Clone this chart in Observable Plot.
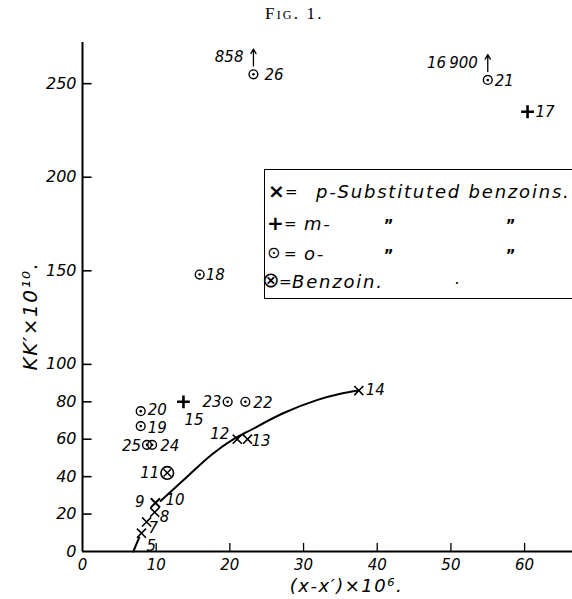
<!DOCTYPE html>
<html>
<head>
<meta charset="utf-8">
<script src="https://cdn.jsdelivr.net/npm/d3@7"></script>
<script src="https://cdn.jsdelivr.net/npm/@observablehq/plot@0.6"></script>
<style>
  html, body { margin: 0; padding: 0; background: white; }
  #page { position: relative; width: 572px; height: 599px; overflow: hidden; background: white; font-family: "DejaVu Sans", "Liberation Sans", sans-serif; }
  #title { position: absolute; left: 265px; top: 4px; font-family: "Liberation Serif", "DejaVu Serif", serif; font-variant: small-caps; font-size: 17px; letter-spacing: 2.2px; white-space: nowrap; }
  #chart { position: absolute; left: 0; top: 28px; }
  #legend { position: absolute; left: 264px; top: 169px; width: 340px; height: 128px; border: 1.6px solid black; font-style: italic; font-size: 18px; }
  #legend span { position: absolute; white-space: nowrap; line-height: 18px; }
</style>
</head>
<body>
<div id="page">
  <div id="title">Fig. 1.</div>
  <div id="chart"></div>
  <div id="legend"></div>
</div>
<script>
// ---- data ----
const xTicks = [10, 20, 30, 40, 50, 60];
const xTickLabels = [0, 10, 20, 30, 40, 50, 60];
const yTicks = [20, 40, 60, 80, 100, 150, 200, 250];
const yTickLabels = [0, 20, 40, 60, 80, 100, 150, 200, 250];

// p-substituted benzoins (x)
const pIds = ["5", "7", "8", "9", "10", "12", "13", "14"];
const pX   = [8.0, 8.7, 9.8, 9.9, 9.9, 21.0, 22.4, 37.5];
const pY   = [9.8, 15.8, 21, 26, 26, 60, 60, 86];

// m-substituted benzoins (+)
const mIds = ["15", "17"];
const mX   = [13.7, 60.4];
const mY   = [80, 235];

// o-substituted benzoins (circle with dot)
const oIds = ["18", "19", "20", "21", "22", "23", "24", "25", "26"];
const oX   = [15.9, 7.9, 7.9, 55.0, 22.1, 19.7, 9.45, 8.75, 23.2];
const oY   = [148, 67, 75, 252, 80, 80, 57, 57, 255];

// benzoin (circle with cross)
const bIds = ["11"];
const bX   = [11.5];
const bY   = [42];

// off-scale true values (arrows)
const offIds    = ["21", "26"];
const offValues = ["16\u2009900", "858"];

// drawn curve through the p-series
const curveSeg = ["a", "a", "b", "b", "b", "b", "b", "b", "b", "b", "b"];
const curveX   = [6.9, 7.7, 10.6, 14.2, 17.6, 20.5, 22.4, 27.3, 31.9, 35.0, 37.5];
const curveY   = [0, 7.5, 27, 40, 52, 60, 64, 74, 81, 84.3, 86];

// ---- tables ----
const toRows = (ids, xs, ys) => ids.map((id, i) => ({id, x: xs[i], y: ys[i]}));
const pRows = toRows(pIds, pX, pY);
const mRows = toRows(mIds, mX, mY);
const oRows = toRows(oIds, oX, oY);
const bRows = toRows(bIds, bX, bY);
const allRows = [...pRows, ...mRows, ...oRows, ...bRows];
const curveRows = curveX.map((x, i) => ({seg: curveSeg[i], x, y: curveY[i]}));
const offRows = offIds.map((id, i) => ({...oRows.find(d => d.id === id), value: offValues[i]}));

// label placement (pixel offsets, anchor)
const labelPlace = {
  "5": [5, 13, "start"], "7": [2, 6, "start"], "8": [5, 5, "start"],
  "9": [-11, -1, "end"], "10": [10, -3, "start"],
  "12": [-8, -5, "end"], "13": [4, 2, "start"], "14": [7, 0, "start"],
  "15": [1, 18, "start"], "17": [8, 0, "start"],
  "18": [6, 1, "start"], "19": [7, 2, "start"], "20": [7, -1, "start"],
  "21": [7, 1, "start"], "22": [8, 1, "start"], "23": [-6, 0, "end"],
  "24": [8, 1, "start"], "25": [-6, 1, "end"], "26": [11, 1, "start"],
  "11": [-8, 0, "end"]
};

const font = "'DejaVu Sans', 'Liberation Sans', sans-serif";
const labelMarks = allRows.map(d => {
  const [dx, dy, anchor] = labelPlace[d.id];
  return Plot.text([d], {x: "x", y: "y", text: "id", dx, dy, textAnchor: anchor,
    fontSize: 15, fontStyle: "italic", fill: "black"});
});

const chart = Plot.plot({
  width: 572,
  height: 571,
  marginLeft: 82,
  marginRight: 0,
  marginTop: 14,
  marginBottom: 48,
  x: {domain: [0, 66.5]},
  y: {domain: [0, 272]},
  style: {fontFamily: font, fontStyle: "italic", background: "white", color: "black", overflow: "visible"},
  marks: [
    // axis lines and inward ticks
    Plot.ruleY([0], {stroke: "black", strokeWidth: 2}),
    Plot.ruleX([0], {y1: 0, y2: 272, stroke: "black", strokeWidth: 2}),
    Plot.ruleX(xTicks, {y1: 0, y2: 4.3, stroke: "black", strokeWidth: 1.3}),
    Plot.ruleY(yTicks, {x1: 0, x2: 1.3, stroke: "black", strokeWidth: 1.6}),
    Plot.axisX({ticks: xTickLabels, tickSize: 0, tickPadding: 8, fontSize: 15, label: null, tickFormat: d => String(d)}),
    Plot.axisY({ticks: yTickLabels, tickSize: 0, tickPadding: 6, fontSize: 16, label: null, tickFormat: d => String(d)}),
    // curve
    Plot.line(curveRows, {x: "x", y: "y", z: "seg", curve: "catmull-rom", stroke: "black", strokeWidth: 2}),
    // p-substituted: x
    Plot.dot(pRows, {x: "x", y: "y", symbol: "times", r: 4.2, stroke: "black", strokeWidth: 1.6}),
    // m-substituted: +
    Plot.dot(mRows, {x: "x", y: "y", symbol: "plus", r: 4.2, stroke: "black", strokeWidth: 2.6}),
    // o-substituted: circle with dot
    Plot.dot(oRows, {x: "x", y: "y", r: 4.4, stroke: "black", strokeWidth: 1.4, fill: "none"}),
    Plot.dot(oRows, {x: "x", y: "y", r: 1.3, fill: "black"}),
    // benzoin: circle with cross
    Plot.dot(bRows, {x: "x", y: "y", r: 6.3, stroke: "black", strokeWidth: 1.6, fill: "white"}),
    Plot.dot(bRows, {x: "x", y: "y", symbol: "times", r: 3.4, stroke: "black", strokeWidth: 1.5}),
    // off-scale arrows
    Plot.arrow(offRows, {x1: "x", x2: "x", y1: d => d.y + 4.5, y2: d => d.y + 13.5,
      stroke: "black", strokeWidth: 1.3, headLength: 6}),
    Plot.text(offRows, {x: "x", y: "y", text: "value", dx: -10, dy: -17, textAnchor: "end",
      fontSize: 15, fontStyle: "italic"}),
    ...labelMarks,
    // axis titles
    Plot.text(["(x-x′)×10⁶."], {frameAnchor: "bottom", textAnchor: "middle", lineAnchor: "middle",
      dx: 19, dy: 35, fontSize: 18, fontStyle: "italic"}),
    Plot.text(["KK′×10¹⁰."], {frameAnchor: "left", textAnchor: "middle", lineAnchor: "middle",
      dx: -52, dy: 19, rotate: -90, fontSize: 20, fontStyle: "italic"})
  ]
});
document.getElementById("chart").appendChild(chart);
d3.select(chart).selectAll("text")
  .filter(function () { const t = this.textContent; return t.startsWith("(x") || t.startsWith("KK"); })
  .attr("letter-spacing", "1.5px");

// legend (real text); offsets are relative to the legend box
const legendSyms  = ["×", "+", "⊙", "⊗"];
const legendWords = ["p-Substituted benzoins.", "m-", "o-", "Benzoin."];
const legendDitto = [false, true, true, false];
const legend = document.getElementById("legend");
const rowTops = [13, 45, 75, 103];
const symLeft = [3, 2, 2, -3];
const eqLeft = [20, 19, 19, 14];
const wordLeft = [51, 39, 39, 27];
const add = (text, left, top, css) => {
  const s = document.createElement("span");
  s.textContent = text;
  s.style.left = left + "px";
  s.style.top = top + "px";
  Object.assign(s.style, css || {});
  legend.appendChild(s);
  return s;
};
legendSyms.forEach((sym, i) => {
  const round = sym === "⊙" || sym === "⊗";
  add(sym, symLeft[i], rowTops[i] - (sym === "⊗" ? 2 : 1), {fontStyle: "normal", fontWeight: round ? "normal" : "bold",
    fontSize: sym === "⊗" ? "21px" : (round ? "16px" : "20px")});
  add("=", eqLeft[i], rowTops[i], {fontStyle: "normal", fontSize: "15px"});
  add(legendWords[i], wordLeft[i], rowTops[i], {letterSpacing: "1.8px"});
  if (legendDitto[i]) {
    [119, 241].forEach(left => add("„", left, rowTops[i] - 7, {fontSize: "15px", fontStyle: "normal", fontWeight: "bold"}));
  }
});
add(".", 190, 100, {fontSize: "16px"});
</script>
</body>
</html>
